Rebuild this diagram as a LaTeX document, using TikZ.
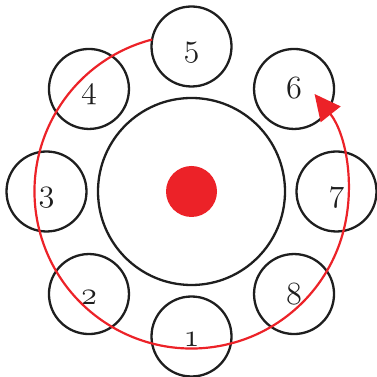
\documentclass[tikz,border=0pt]{standalone}
\usetikzlibrary{arrows.meta}
\definecolor{myred}{RGB}{236,34,40}
\definecolor{ink}{RGB}{30,30,30}
\begin{document}
\begin{tikzpicture}[x=1pt,y=1pt,
  ring/.style={circle,draw=ink,line width=2.3pt,minimum size=80pt,inner sep=0pt},
  hub/.style={circle,draw=ink,line width=2.3pt,minimum size=187pt,inner sep=0pt},
  core/.style={circle,fill=myred,minimum size=51pt,inner sep=0pt},
  num/.style={anchor=base,text=ink,inner sep=0pt,transform shape,scale=1.3,font=\fontsize{24.88}{30}\usefont{OML}{cmm}{m}{it}},
  orbit/.style={draw=myred,line width=2.2pt}]
\useasboundingbox (0,0) rectangle (376,377);
\coordinate (O) at (191.5,185.5);
\node[hub] (hub) at (O) {};
\node[core] (dot) at (O) {};
\foreach \n/\a in {5/90,6/45,7/0,8/-45,1/-90,2/-135,3/180,4/135}{
  \node[ring] (c\n) at ([shift={(\a:145)}]O) {};
  \node[num] (t\n) at ([yshift=-10pt]c\n.center) {\n};
}
\draw[orbit,-{Triangle[length=26pt,width=25pt]}] ([shift={(104.5:157)}]O) arc[start angle=104.5,end angle=398.4,radius=157];
\end{tikzpicture}
\end{document}
